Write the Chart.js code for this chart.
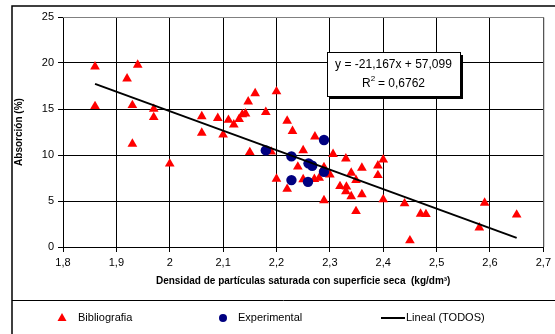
<!DOCTYPE html>
<html>
<head>
<meta charset="utf-8">
<script src="https://cdn.jsdelivr.net/npm/chart.js@4"></script>
<style>
  html, body { margin: 0; padding: 0; background: #fff; }
  #wrap { width: 555px; height: 334px; position: relative; }
</style>
</head>
<body>
<div id="wrap"><canvas id="graphCanvas" width="555" height="334"></canvas></div>
<script>
// Bibliografia (triangles)
var bibX = [1.86, 1.86, 1.92, 1.94, 1.93, 1.97, 1.97, 1.93, 2.00, 2.06, 2.06, 2.09, 2.10, 2.11, 2.12,
            2.13, 2.136, 2.142, 2.147, 2.16, 2.18, 2.20, 2.22, 2.23, 2.15, 2.19, 2.25, 2.24, 2.20, 2.22,
            2.25, 2.272, 2.306, 2.33, 2.40, 2.39, 2.36, 2.34, 2.39, 2.30, 2.289, 2.271, 2.28, 2.319, 2.331,
            2.33, 2.34, 2.349, 2.36, 2.349, 2.289, 2.40, 2.44, 2.47, 2.48, 2.45, 2.58, 2.59, 2.65];
var bibY = [19.6, 15.3, 18.3, 19.8, 15.4, 15.0, 14.1, 11.2, 9.05, 14.2, 12.4, 14.0, 12.2, 13.8, 13.3,
            13.9, 14.4, 14.5, 15.8, 16.7, 14.65, 16.9, 13.7, 12.6, 10.3, 10.35, 10.5, 8.72, 7.4, 6.3,
            7.35, 12.0, 10.1, 9.6, 9.5, 8.85, 8.6, 8.05, 7.8, 7.87, 8.65, 7.38, 7.5, 6.6, 6.55,
            6.05, 5.5, 7.27, 5.72, 3.88, 5.07, 5.16, 4.73, 3.6, 3.56, 0.7, 2.1, 4.8, 3.5];

// Experimental (circles)
var expX = [2.18, 2.228, 2.228, 2.26, 2.267, 2.259, 2.289, 2.289];
var expY = [10.5, 9.85, 7.27, 9.09, 8.83, 7.08, 8.17, 11.63];

// Lineal (TODOS) trend line ends
var trendX = [1.86, 2.65];
var trendY = [17.73, 0.99];

var xTicks = [1.8, 1.9, 2.0, 2.1, 2.2, 2.3, 2.4, 2.5, 2.6, 2.7];
var yTicks = [0, 5, 10, 15, 20, 25];

var eqLine1 = 'y = -21,167x + 57,099';
var eqLine2 = 'R';
var eqLine2b = ' = 0,6762';

var FONT = '"Liberation Sans", Arial, sans-serif';

function pts(xs, ys) {
    var out = [];
    for (var i = 0; i < xs.length; i++) out.push({ x: xs[i], y: ys[i] });
    return out;
}

function fmt(v) {
    return String(Number(v.toFixed(1))).replace('.', ',');
}

// frame, equation box and legend
var extras = {
    id: 'extras',
    beforeDatasetsDraw: function (chart) {
        var ctx = chart.ctx, a = chart.chartArea;
        ctx.save();
        ctx.strokeStyle = '#808080';
        ctx.lineWidth = 1;
        ctx.beginPath();
        ctx.moveTo(a.left, a.top + 0.5);
        ctx.lineTo(a.right + 0.5, a.top + 0.5);
        ctx.lineTo(a.right + 0.5, a.bottom);
        ctx.stroke();
        ctx.restore();
    },
    afterDraw: function (chart) {
        var ctx = chart.ctx;
        ctx.save();
        // outer frame
        ctx.strokeStyle = '#000';
        ctx.lineWidth = 1.5;
        ctx.beginPath();
        ctx.moveTo(12, 334);
        ctx.lineTo(12, 6);
        ctx.lineTo(555, 6);
        ctx.stroke();
        ctx.lineWidth = 1;
        ctx.beginPath();
        ctx.moveTo(12, 300.5);
        ctx.lineTo(555, 300.5);
        ctx.stroke();

        // equation box
        var bx = 327, by = 52, bw = 133, bh = 44;
        ctx.fillStyle = '#000';
        ctx.fillRect(bx + 3, by + 3, bw, bh);
        ctx.fillStyle = '#fff';
        ctx.fillRect(bx, by, bw, bh);
        ctx.strokeStyle = '#000';
        ctx.strokeRect(bx + 0.5, by + 0.5, bw, bh);
        ctx.fillStyle = '#000';
        ctx.font = '12px ' + FONT;
        ctx.textAlign = 'center';
        ctx.textBaseline = 'middle';
        ctx.fillText(eqLine1, bx + bw / 2, by + 13);
        var w1 = ctx.measureText(eqLine2).width;
        var w2 = ctx.measureText(eqLine2b).width;
        var sx = bx + bw / 2 - (w1 + 4 + w2) / 2;
        ctx.textAlign = 'left';
        ctx.fillText(eqLine2, sx, by + 32);
        ctx.font = '8px ' + FONT;
        ctx.fillText('2', sx + w1, by + 27);
        ctx.font = '12px ' + FONT;
        ctx.fillText(eqLine2b, sx + w1 + 4, by + 32);

        // legend
        var ds = chart.data.datasets;
        var ly = 318;
        ctx.font = '11px ' + FONT;
        ctx.textBaseline = 'middle';
        ctx.fillStyle = '#ff0000';
        ctx.beginPath();
        ctx.moveTo(62, ly - 5);
        ctx.lineTo(66.5, ly + 3);
        ctx.lineTo(57.5, ly + 3);
        ctx.closePath();
        ctx.fill();
        ctx.fillStyle = '#000';
        ctx.fillText(ds[2].label, 78, ly);

        ctx.fillStyle = '#000080';
        ctx.beginPath();
        ctx.arc(223, ly, 4, 0, Math.PI * 2);
        ctx.fill();
        ctx.fillStyle = '#000';
        ctx.fillText(ds[1].label, 238, ly);

        ctx.lineWidth = 2;
        ctx.beginPath();
        ctx.moveTo(381, ly);
        ctx.lineTo(405, ly);
        ctx.stroke();
        ctx.fillText(ds[0].label, 406, ly);
        ctx.restore();
    }
};

var chartdata = {
    datasets: [
        {
            label: 'Lineal (TODOS)',
            data: pts(trendX, trendY),
            showLine: true,
            borderColor: '#000',
            borderWidth: 2,
            pointRadius: 0,
            order: 0
        },
        {
            label: 'Experimental',
            data: pts(expX, expY),
            pointStyle: 'circle',
            pointRadius: 5.2,
            backgroundColor: '#000080',
            borderColor: '#000080',
            borderWidth: 0,
            order: 1
        },
        {
            label: 'Bibliografia',
            data: pts(bibX, bibY),
            pointStyle: 'triangle',
            pointRadius: 5.6,
            backgroundColor: '#ff0000',
            borderColor: '#ff0000',
            borderWidth: 0,
            order: 2
        }
    ]
};

var LineGraph = new Chart(document.getElementById('graphCanvas'), {
    type: 'scatter',
    data: chartdata,
    plugins: [extras],
    options: {
        responsive: false,
        animation: false,
        layout: { padding: { left: 13, right: 10, top: 17, bottom: 47 } },
        plugins: {
            legend: { display: false },
            tooltip: { enabled: false }
        },
        scales: {
            x: {
                type: 'linear',
                min: xTicks[0],
                max: xTicks[xTicks.length - 1],
                afterBuildTicks: function (scale) {
                    scale.ticks = xTicks.map(function (v) { return { value: v }; });
                },
                afterFit: function (scale) { scale.height = 40; },
                border: { color: '#000', width: 1 },
                grid: {
                    color: '#000',
                    borderDash: [7, 5],
                    tickLength: 5,
                    tickColor: '#000',
                    tickBorderDash: []
                },
                ticks: {
                    color: '#000',
                    font: { family: FONT, size: 11 },
                    padding: 4,
                    maxRotation: 0,
                    callback: function (v) { return fmt(v); }
                },
                title: {
                    display: true,
                    text: 'Densidad de partículas saturada con superficie seca  (kg/dm³)',
                    color: '#000',
                    font: { family: FONT, size: 10, weight: 'bold' },
                    padding: { top: 3, bottom: 0 }
                }
            },
            y: {
                min: yTicks[0],
                max: yTicks[yTicks.length - 1],
                afterBuildTicks: function (scale) {
                    scale.ticks = yTicks.map(function (v) { return { value: v }; });
                },
                afterFit: function (scale) { scale.width = 50; },
                border: { color: '#000', width: 1 },
                grid: {
                    color: '#000',
                    borderDash: [7, 5],
                    tickLength: 5,
                    tickColor: '#000',
                    tickBorderDash: []
                },
                ticks: {
                    color: '#000',
                    font: { family: FONT, size: 11 },
                    padding: 4
                },
                title: {
                    display: true,
                    text: 'Absorción (%)',
                    color: '#000',
                    font: { family: FONT, size: 10, weight: 'bold' },
                    padding: { top: 0, bottom: 4 }
                }
            }
        }
    }
});
</script>
</body>
</html>
